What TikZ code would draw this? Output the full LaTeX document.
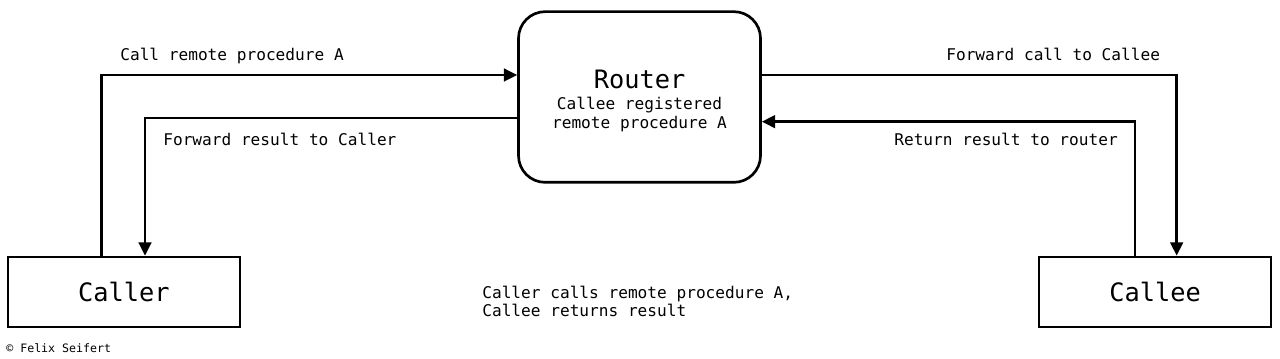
\documentclass[tikz,border=0pt]{standalone}
\usepackage{fontspec}
\setmainfont{DejaVu Sans Mono}
\usetikzlibrary{positioning, arrows.meta}

\begin{document}
\begin{tikzpicture}[x=0.75pt,y=-0.75pt,on grid,line width=2pt,
    box/.style={draw,rectangle,minimum width=174pt,minimum height=52.5pt,font=\fontsize{19}{19}\selectfont},
    routerbox/.style={draw,rectangle,rounded corners=20pt,minimum width=181.5pt,minimum height=128pt,
        align=center,font=\fontsize{12.1}{14.6}\selectfont},
    flow/.style={-{Triangle[length=10pt,width=9.5pt]}},
    lbl/.style={anchor=base west,inner sep=0pt,font=\fontsize{12.1}{14.6}\selectfont}]
       \useasboundingbox (0,0) rectangle (1280,359);

       \node[box] (caller) at (124,292) {Caller};
       \node[box] (callee) [right=773.25pt of caller] {Callee};
       \node[routerbox] (router) at (639.5,97)
           {{\fontsize{19}{19}\selectfont\rule{0pt}{19.5pt}Router}\\[1.2pt]Callee registered\\remote procedure A};

       \draw[flow] ([xshift=-17pt]caller.north) |- ([yshift=16.5pt]router.west);
       \draw[flow] ([yshift=-15.75pt]router.west) -| ([xshift=15.75pt]caller.north);
       \draw[flow] ([yshift=16.5pt]router.east) -| ([xshift=16.25pt]callee.north);
       \draw[flow] ([xshift=-15pt]callee.north) |- ([yshift=-18.5pt]router.east);

       \node[lbl] (calllbl) at (119,61) {Call remote procedure A};
       \node[lbl] (resultlbl) at (162,145.7) {Forward result to Caller};
       \node[lbl] (forwardlbl) at (945,61) {Forward call to Callee};
       \node[lbl] (returnlbl) at (893,145.7) {Return result to router};

       \node[lbl] (summaryA) at (481,299) {Caller calls remote procedure A,};
       \node[lbl] (summaryB) at (481,316) {Callee returns result};

       \node[lbl,font=\fontsize{8.7}{10}\selectfont] (credit) at (5,352) {© Felix Seifert};
    \end{tikzpicture}
\end{document}
